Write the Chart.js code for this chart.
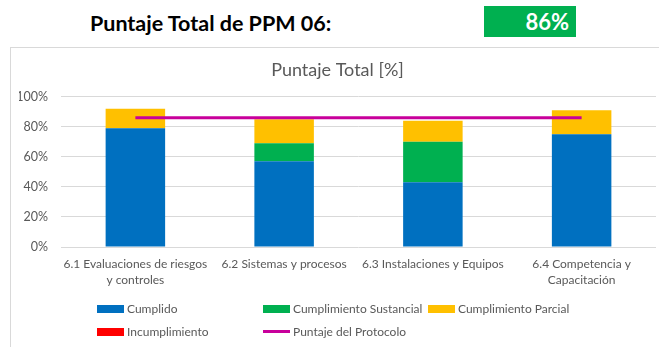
<!DOCTYPE html>
<html>
<head>
<meta charset="utf-8">
<script src="https://cdn.jsdelivr.net/npm/chart.js@4/dist/chart.umd.min.js"></script>
<style>
  html, body { margin: 0; padding: 0; background: #fff; }
  body { width: 659px; height: 347px; position: relative; overflow: hidden;
         font-family: Lato, "DejaVu Sans Condensed", sans-serif; }
  #heading { position: absolute; left: 90px; top: 9px; font-size: 21.5px; font-weight: bold; color: #000; line-height: 28px; }
  #score { position: absolute; left: 484px; top: 6px; width: 92px; height: 31px; background: #00B050;
           color: #fff; font-size: 22px; font-weight: bold; text-align: right; box-sizing: border-box;
           padding-right: 7px; line-height: 31px; }
  #frame { position: absolute; left: 10px; top: 47px; width: 660px; height: 310px;
           border: 1px solid #d9d9d9; box-sizing: border-box; }
  #wrap { position: absolute; left: 10px; top: 51px; width: 649px; height: 249px; }
  #legend { position: absolute; left: 97px; top: 299px; width: 520px; display: grid;
            grid-template-columns: 166px 165px 190px; row-gap: 4px; font-size: 12px; color: #595959; }
  .item { display: flex; align-items: center; height: 19px; white-space: nowrap; }
  .sw { width: 27px; height: 8px; margin-right: 3px; }
  .ln { width: 27px; height: 3px; margin-right: 3px; }
</style>
</head>
<body>
<div id="heading">Puntaje Total de PPM 06:</div>
<div id="score"></div>
<div id="frame"></div>
<div id="wrap"><canvas id="c"></canvas></div>
<div id="legend"></div>
<script>
const categories = [
  ["6.1 Evaluaciones de riesgos", "y controles"],
  "6.2 Sistemas y procesos",
  "6.3 Instalaciones y Equipos",
  ["6.4 Competencia y", "Capacitación"]
];
const cumplido     = [79, 57, 43, 75];
const sustancial   = [0, 12, 27, 0];
const parcial      = [13, 16, 14, 16];
const incumplimiento = [0, 0, 0, 0];
const protocolScore = 86;
const protocolLine = categories.map(() => protocolScore);
const yTicks = [0, 20, 40, 60, 80, 100];

document.getElementById('score').textContent = protocolScore + '%';

const FONT = 'Lato, "DejaVu Sans Condensed", sans-serif';
const GREY = '#595959';

const bar = (label, data, color) => ({
  type: 'bar', label, data, backgroundColor: color, borderWidth: 0,
  stack: 'bars', categoryPercentage: 0.8, barPercentage: 0.5, order: 2
});

const chart = new Chart(document.getElementById('c'), {
  data: {
    labels: categories,
    datasets: [
      bar('Cumplido', cumplido, '#0070C0'),
      bar('Cumplimiento Sustancial', sustancial, '#00B050'),
      bar('Cumplimiento Parcial', parcial, '#FFC000'),
      bar('Incumplimiento', incumplimiento, '#FF0000'),
      {
        type: 'line', label: 'Puntaje del Protocolo', data: protocolLine,
        borderColor: '#C8009B', backgroundColor: '#C8009B', borderWidth: 3,
        pointRadius: 0, stack: 'protocol', order: 1, fill: false
      }
    ]
  },
  options: {
    responsive: true, maintainAspectRatio: false, animation: false,
    layout: { padding: { left: 9, right: 3, top: 0, bottom: 0 } },
    plugins: {
      legend: { display: false },
      tooltip: { enabled: false },
      title: {
        display: true, text: 'Puntaje Total [%]', color: GREY,
        font: { family: FONT, size: 18, weight: 'normal' },
        padding: { top: 8, bottom: 16 }
      }
    },
    scales: {
      x: {
        stacked: true,
        grid: { display: false, drawTicks: false },
        border: { display: false },
        ticks: { color: GREY, font: { family: FONT, size: 12, lineHeight: 1.35 }, padding: 9, maxRotation: 0, autoSkip: false },
        afterFit: s => { s.height = 53; }
      },
      y: {
        stacked: true, min: 0, max: 100,
        afterBuildTicks: s => { s.ticks = yTicks.map(v => ({ value: v })); },
        grid: { color: '#d9d9d9', drawTicks: false, lineWidth: 1 },
        border: { display: false },
        ticks: { color: GREY, font: { family: FONT, size: 12.5 }, padding: 13, callback: v => v + '%' },
        afterFit: s => { s.width = 42; }
      }
    }
  }
});

// Legend laid out in fixed columns, built from the chart's own datasets
const legend = document.getElementById('legend');
chart.data.datasets.forEach(ds => {
  const item = document.createElement('div');
  item.className = 'item';
  const mark = document.createElement('span');
  mark.className = ds.type === 'line' ? 'ln' : 'sw';
  mark.style.background = ds.type === 'line' ? ds.borderColor : ds.backgroundColor;
  const txt = document.createElement('span');
  txt.textContent = ds.label;
  item.appendChild(mark);
  item.appendChild(txt);
  legend.appendChild(item);
});
// Second row starts under the first column
legend.children[3].style.gridColumn = '1';
</script>
</body>
</html>
